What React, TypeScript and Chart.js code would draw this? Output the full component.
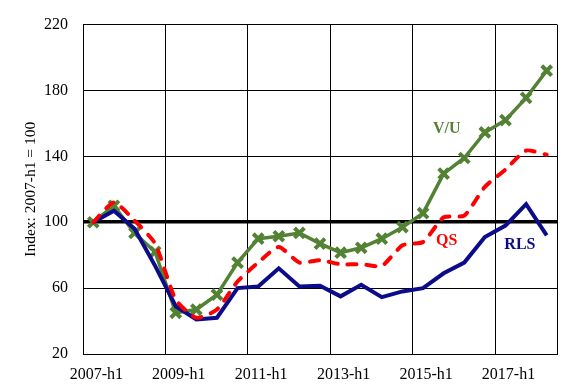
import React, { useEffect, useRef } from 'react';
import { Chart, registerables } from 'chart.js';

Chart.register(...registerables);

const categories = [
  '2007-h1', '2007-h2', '2008-h1', '2008-h2', '2009-h1', '2009-h2', '2010-h1', '2010-h2',
  '2011-h1', '2011-h2', '2012-h1', '2012-h2', '2013-h1', '2013-h2', '2014-h1', '2014-h2',
  '2015-h1', '2015-h2', '2016-h1', '2016-h2', '2017-h1', '2017-h2', '2018-h1',
];

const vuValues = [100, 110, 93.5, 82, 45, 47, 56, 75.5, 90, 91.5, 93.5, 87, 81.5, 84.5, 90, 97, 105.5, 129.5, 139, 154.5, 162, 175.5, 192];
const qsValues = [100, 112, 101, 87, 53, 42, 47, 64, 75.5, 85, 75.5, 77, 74.5, 74.5, 73.5, 86, 88, 103, 104, 121.5, 132, 143.5, 141];
const rlsValues = [100, 107, 96, 73.5, 49, 41, 42, 60, 61, 72, 61, 61.5, 55, 62, 54.5, 58, 60, 69, 75.5, 91, 98, 111, 92];

const yTicks = [20, 60, 100, 140, 180, 220];
const yTitle = 'Index: 2007-h1 = 100';

const GREEN = '#548235';
const RED = '#FF0000';
const NAVY = '#0C0C8A';

// series name labels: position given as (category index, value)
const seriesLabels = [
  { text: 'V/U', at: 17.15, value: 156.5, color: GREEN },
  { text: 'QS', at: 17.15, value: 88.5, color: RED },
  { text: 'RLS', at: 20.7, value: 86, color: NAVY },
];

const SERIF = "'Liberation Serif', 'Times New Roman', serif";

const labelPlugin = {
  id: 'seriesLabels',
  afterDatasetsDraw(chart: any) {
    const xs = chart.scales.x;
    const ys = chart.scales.y;
    const ctx = chart.ctx;
    ctx.save();
    ctx.font = `bold 16px ${SERIF}`;
    ctx.textAlign = 'center';
    ctx.textBaseline = 'middle';
    for (const l of seriesLabels) {
      const i = Math.floor(l.at);
      const p0 = xs.getPixelForValue(i);
      const p1 = xs.getPixelForValue(i + 1);
      const px = p0 + (l.at - i) * (p1 - p0);
      const py = ys.getPixelForValue(l.value);
      ctx.fillStyle = l.color;
      ctx.fillText(l.text, px, py);
    }
    ctx.restore();
  },
};

export default function App() {
  const ref = useRef<HTMLCanvasElement>(null);
  useEffect(() => {
    document.body.style.margin = '0';
    const chart = new Chart(ref.current as HTMLCanvasElement, {
      type: 'line',
      data: {
        labels: categories,
        datasets: [
          {
            label: 'QS',
            data: qsValues,
            borderColor: RED,
            backgroundColor: RED,
            borderWidth: 4,
            borderDash: [9, 10],
            borderCapStyle: 'round',
            pointRadius: 0,
            tension: 0.2,
            order: 0,
          },
          {
            label: 'RLS',
            data: rlsValues,
            borderColor: NAVY,
            backgroundColor: NAVY,
            borderWidth: 4,
            pointRadius: 0,
            tension: 0,
            order: 1,
          },
          {
            label: 'V/U',
            data: vuValues,
            borderColor: GREEN,
            backgroundColor: GREEN,
            borderWidth: 3.5,
            pointStyle: 'crossRot',
            pointRadius: 7,
            pointBorderWidth: 4,
            pointBorderColor: GREEN,
            tension: 0,
            order: 2,
          },
        ],
      },
      options: {
        responsive: false,
        devicePixelRatio: 1,
        animation: false,
        layout: { padding: { left: 0, top: 15, right: 22, bottom: 0 } },
        plugins: { legend: { display: false }, tooltip: { enabled: false } },
        scales: {
          x: {
            type: 'category',
            offset: true,
            afterFit: (s: any) => { s.height = 38; },
            grid: {
              offset: true,
              drawTicks: false,
              lineWidth: 1,
              color: (c: any) => (c.type !== 'tick' || c.index % 4 === 0 ? '#000' : 'rgba(0,0,0,0)'),
            },
            border: { display: true, color: '#000', width: 1 },
            ticks: {
              autoSkip: false,
              maxRotation: 0,
              minRotation: 0,
              padding: 11,
              labelOffset: 3,
              color: '#000',
              font: { family: SERIF, size: 16 },
              callback: (_v: any, i: number) => (i % 4 === 0 ? categories[i] : ''),
            },
          },
          y: {
            min: 20,
            max: 220,
            afterFit: (s: any) => { s.width = 83; },
            afterBuildTicks: (s: any) => { s.ticks = yTicks.map((v) => ({ value: v })); },
            grid: {
              drawTicks: false,
              color: '#000',
              lineWidth: (c: any) => (c.tick && c.tick.value === 100 ? 3.5 : 1),
            },
            border: { display: true, color: '#000', width: 1 },
            ticks: {
              padding: 15,
              color: '#000',
              font: { family: SERIF, size: 16 },
            },
            title: {
              display: true,
              text: yTitle,
              color: '#000',
              font: { family: SERIF, size: 15.5 },
              padding: { top: 22, bottom: 0 },
            },
          },
        },
      },
      plugins: [labelPlugin],
    } as any);
    return () => chart.destroy();
  }, []);
  return (
    <div style={{ width: 579, height: 392 }}>
      <canvas ref={ref} width={579} height={392} style={{ display: 'block' }} />
    </div>
  );
}
